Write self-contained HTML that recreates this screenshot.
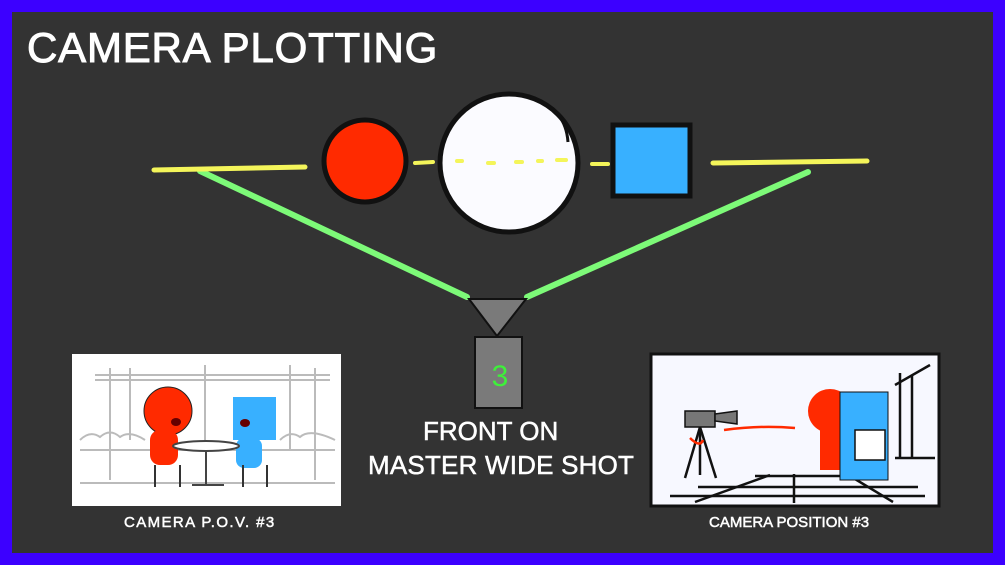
<!DOCTYPE html>
<html><head><style>
html,body{margin:0;padding:0}
body{width:1005px;height:565px;overflow:hidden;background:#3c00ff;font-family:"Liberation Sans",sans-serif}
#f{position:absolute;left:12px;top:12px;width:981px;height:541px;background:#333333}
.t{position:absolute;color:#fff;white-space:nowrap;-webkit-text-stroke:0.5px #fff}
</style></head><body>
<div id="f"></div>
<svg width="1005" height="565" style="position:absolute;left:0;top:0">
<g stroke-linecap="round" fill="none">
<line x1="200" y1="171" x2="467" y2="297" stroke="#7dfa78" stroke-width="6"/>
<line x1="527" y1="297" x2="808" y2="172" stroke="#7dfa78" stroke-width="6"/>
<line x1="154" y1="170" x2="305" y2="167" stroke="#f4f55a" stroke-width="5"/>
<line x1="713" y1="163" x2="867" y2="161" stroke="#f4f55a" stroke-width="5"/>
<line x1="415" y1="163" x2="433" y2="162" stroke="#f4f55a" stroke-width="4"/>
<line x1="592" y1="164" x2="608" y2="164" stroke="#f4f55a" stroke-width="4"/>
</g>
<circle cx="365" cy="161" r="41" fill="#ff2a00" stroke="#111" stroke-width="5"/>
<ellipse cx="509" cy="163" rx="69" ry="69" fill="#fbfbff" stroke="#111" stroke-width="5"/>
<path d="M545 104 Q566 115 568 142" stroke="#111" stroke-width="3" fill="none"/>
<g stroke="#f4f55a" stroke-width="4" stroke-linecap="round">
<line x1="457" y1="161" x2="462" y2="161"/><line x1="488" y1="163" x2="494" y2="163"/>
<line x1="516" y1="162" x2="522" y2="162"/><line x1="538" y1="161" x2="542" y2="161"/>
<line x1="557" y1="160" x2="566" y2="160"/>
</g>
<rect x="613" y="125" width="77" height="71" fill="#38b0ff" stroke="#111" stroke-width="5"/>
<path d="M469 299 L526 299 L497 336 Z" fill="#7a7a7a" stroke="#111" stroke-width="2"/>
<rect x="475" y="337" width="47" height="71" fill="#7a7a7a" stroke="#111" stroke-width="2"/>
<text x="500" y="386" font-size="30" fill="#3ef03a" text-anchor="middle" font-family="Liberation Sans">3</text>
<rect x="72" y="354" width="269" height="152" fill="#fff"/>
<g stroke="#bbb" stroke-width="2">
<line x1="95" y1="375" x2="330" y2="375"/><line x1="95" y1="380" x2="330" y2="380"/>
<line x1="110" y1="368" x2="110" y2="480"/><line x1="130" y1="368" x2="130" y2="440"/>
<line x1="205" y1="365" x2="205" y2="450"/><line x1="290" y1="365" x2="290" y2="450"/>
<line x1="315" y1="368" x2="315" y2="480"/>
<line x1="80" y1="450" x2="335" y2="450"/><line x1="80" y1="483" x2="335" y2="483"/>
<path d="M80 440 Q90 430 100 437 Q110 428 120 437 Q130 430 145 440" fill="none"/>
<path d="M280 440 Q290 430 300 437 Q310 428 335 440" fill="none"/>
</g>
<circle cx="168" cy="411" r="24" fill="#ff2a00" stroke="#222" stroke-width="1"/>
<rect x="150" y="430" width="28" height="35" rx="10" fill="#ff2a00"/>
<rect x="233" y="397" width="43" height="43" fill="#38b0ff"/>
<rect x="236" y="438" width="26" height="30" rx="8" fill="#38b0ff"/>
<ellipse cx="176" cy="422" rx="5" ry="4" fill="#600"/>
<ellipse cx="245" cy="423" rx="5" ry="4" fill="#600"/>
<ellipse cx="206" cy="446" rx="33" ry="5" fill="#fff" stroke="#444" stroke-width="2"/>
<line x1="206" y1="450" x2="206" y2="484" stroke="#444" stroke-width="2"/>
<line x1="192" y1="485" x2="224" y2="485" stroke="#444" stroke-width="2"/>
<g stroke="#333" stroke-width="2"><line x1="155" y1="465" x2="155" y2="487"/><line x1="180" y1="465" x2="180" y2="487"/><line x1="243" y1="465" x2="243" y2="487"/><line x1="267" y1="465" x2="267" y2="487"/></g>
<rect x="651" y="354" width="288" height="152" fill="#f7f8ff" stroke="#111" stroke-width="3"/>
<rect x="685" y="411" width="30" height="16" fill="#777" stroke="#111" stroke-width="1.5"/>
<path d="M715 414 L737 411 L737 424 L715 421 Z" fill="#777" stroke="#111" stroke-width="1.5"/>
<g stroke="#111" stroke-width="2.5"><line x1="700" y1="427" x2="685" y2="478"/><line x1="700" y1="427" x2="716" y2="478"/><line x1="700" y1="427" x2="700" y2="475"/>
<line x1="670" y1="496" x2="925" y2="496"/><line x1="698" y1="487" x2="918" y2="487"/><line x1="755" y1="476" x2="880" y2="476"/>
<line x1="695" y1="502" x2="770" y2="475"/><line x1="893" y1="502" x2="850" y2="476"/><line x1="794" y1="474" x2="794" y2="503"/>
<line x1="900" y1="373" x2="900" y2="458"/><line x1="912" y1="375" x2="912" y2="458"/><line x1="895" y1="385" x2="930" y2="365"/><line x1="895" y1="458" x2="935" y2="458"/></g>
<path d="M724 430 Q760 425 795 428" stroke="#ff2a00" stroke-width="2.5" fill="none"/>
<path d="M690 438 Q700 448 703 440" stroke="#ff2a00" stroke-width="2.5" fill="none"/>
<circle cx="830" cy="411" r="22" fill="#ff2a00"/>
<rect x="820" y="430" width="20" height="40" fill="#ff2a00"/>
<rect x="840" y="392" width="48" height="88" fill="#38b0ff" stroke="#111" stroke-width="1"/>
<rect x="855" y="430" width="30" height="30" fill="#fff" stroke="#111" stroke-width="1.5"/>
</svg>
<div class="t" style="left:27px;top:24px;font-size:42px;letter-spacing:0.8px;-webkit-text-stroke:1px #fff">CAMERA PLOTTING</div>
<div class="t" style="left:423px;top:416px;font-size:26px">FRONT ON</div>
<div class="t" style="left:368px;top:450px;font-size:26px;letter-spacing:0.2px">MASTER WIDE SHOT</div>
<div class="t" style="left:124px;top:514px;font-size:15px;letter-spacing:1.4px">CAMERA P.O.V. #3</div>
<div class="t" style="left:709px;top:514px;font-size:15px">CAMERA POSITION #3</div>
</body></html>
